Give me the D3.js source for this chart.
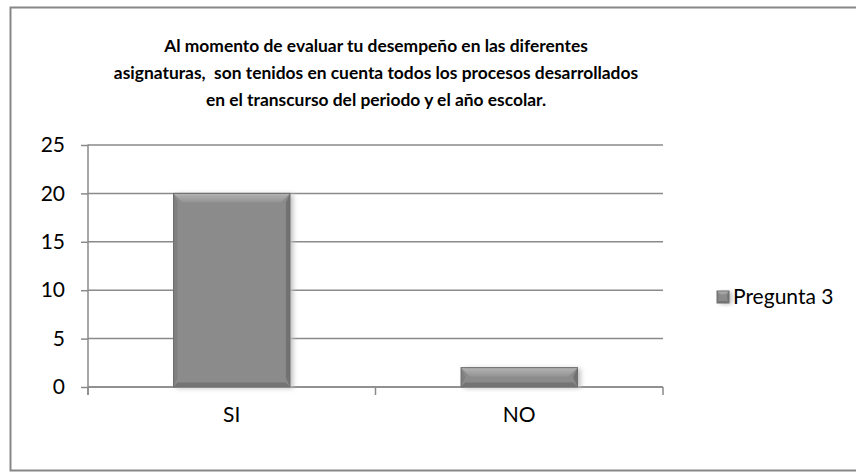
<!DOCTYPE html>
<html lang="es">
<head>
<meta charset="utf-8">
<title>Pregunta 3</title>
<script src="https://cdn.jsdelivr.net/npm/d3@7"></script>
<style>
  body { margin: 0; background: #fff; }
  svg { display: block; }
</style>
</head>
<body>
<script>
// data
var categories = ["SI", "NO"];
var values = [20, 2];
var seriesName = "Pregunta 3";
var yTicks = [0, 5, 10, 15, 20, 25];
var titleLines = [
  "Al momento de evaluar tu desempeño en las diferentes",
  "asignaturas,  son tenidos en cuenta todos los procesos desarrollados",
  "en el transcurso del periodo y el año escolar."
];

var width = 856, height = 472;
var plot = { left: 88, right: 663, top: 145, bottom: 387 };
var font = "Lato, 'Open Sans', sans-serif";

var svg = d3.select("body").append("svg")
  .attr("width", width)
  .attr("height", height);

var defs = svg.append("defs");
var topGrad = defs.append("linearGradient")
  .attr("id", "bevelTop").attr("x1", 0).attr("y1", 0).attr("x2", 0).attr("y2", 1);
topGrad.append("stop").attr("offset", "0%").attr("stop-color", "#b4b4b4");
topGrad.append("stop").attr("offset", "100%").attr("stop-color", "#939393");
var blur = defs.append("filter").attr("id", "shadow")
  .attr("x", "-20%").attr("y", "-20%").attr("width", "140%").attr("height", "140%");
blur.append("feGaussianBlur").attr("stdDeviation", 2.5);

// outer frame (right edge runs off the picture)
svg.append("rect")
  .attr("x", 10.5).attr("y", 7.5)
  .attr("width", 860).attr("height", 463)
  .attr("fill", "none")
  .attr("stroke", "#878787")
  .attr("stroke-width", 2);

// title
svg.append("text")
  .attr("x", 376)
  .attr("text-anchor", "middle")
  .attr("font-family", font)
  .attr("font-weight", "bold")
  .attr("font-size", "17.4px")
  .attr("fill", "#000")
  .style("white-space", "pre")
  .selectAll("tspan")
  .data(titleLines)
  .enter().append("tspan")
  .attr("x", 376)
  .attr("y", function(d, i) { return 52 + i * 27; })
  .text(function(d) { return d; });

var x = d3.scaleBand()
  .domain(categories)
  .range([plot.left, plot.right])
  .padding(0);

var y = d3.scaleLinear()
  .domain([0, 25])
  .range([plot.bottom, plot.top]);

// gridlines
svg.append("g")
  .selectAll("line")
  .data(yTicks)
  .enter().append("line")
  .attr("x1", plot.left).attr("x2", plot.right)
  .attr("y1", function(d) { return y(d); })
  .attr("y2", function(d) { return y(d); })
  .attr("stroke", "#8a8a8a")
  .attr("stroke-width", 1.5);

// y axis
var yAxis = svg.append("g")
  .attr("transform", "translate(" + plot.left + ",0)")
  .call(d3.axisLeft(y).tickValues(yTicks).tickSize(7).tickPadding(16));
yAxis.selectAll("line, path").attr("stroke", "#8a8a8a").attr("stroke-width", 1.5);
yAxis.select("path").attr("d", "M0," + (plot.top - 0.5) + "V" + (plot.bottom + 8));
yAxis.selectAll("text")
  .attr("font-family", font)
  .attr("font-size", "21px")
  .attr("fill", "#000");

// x axis
var xAxis = svg.append("g")
  .attr("transform", "translate(0," + plot.bottom + ")")
  .call(d3.axisBottom(x).tickSize(0).tickPadding(20));
xAxis.select("path").attr("stroke", "#8a8a8a").attr("stroke-width", 1.5)
  .attr("d", "M" + plot.left + ",0H" + plot.right);
xAxis.selectAll("text")
  .attr("font-family", font)
  .attr("font-size", "21px")
  .attr("fill", "#000");
// category separator ticks
xAxis.selectAll(".sep")
  .data([plot.left, x(categories[1]), plot.right])
  .enter().append("line")
  .attr("x1", function(d) { return d; }).attr("x2", function(d) { return d; })
  .attr("y1", 0).attr("y2", 8)
  .attr("stroke", "#8a8a8a").attr("stroke-width", 1.5);

// bevelled box like the spreadsheet bar style
function bevelBox(g, bx, by, bw, bh, b) {
  b = Math.min(b, bh / 2, bw / 2);
  g.append("rect")
    .attr("x", bx + 3).attr("y", by + 1)
    .attr("width", bw).attr("height", bh)
    .attr("fill", "#bdbdbd").attr("filter", "url(#shadow)");
  g.append("rect")
    .attr("x", bx).attr("y", by).attr("width", bw).attr("height", bh)
    .attr("fill", "#8b8b8b");
  var pts = function(a) { return a.map(function(p) { return p.join(","); }).join(" "); };
  // top
  g.append("polygon").attr("fill", "url(#bevelTop)")
    .attr("points", pts([[bx, by], [bx + bw, by], [bx + bw - b, by + b], [bx + b, by + b]]));
  // left
  g.append("polygon").attr("fill", "#7f7f7f")
    .attr("points", pts([[bx, by], [bx + b * 0.45, by + b], [bx + b * 0.45, by + bh - b], [bx, by + bh]]));
  // right
  g.append("polygon").attr("fill", "#727272")
    .attr("points", pts([[bx + bw, by], [bx + bw - b * 0.45, by + b], [bx + bw - b * 0.45, by + bh - b], [bx + bw, by + bh]]));
  // bottom
  g.append("polygon").attr("fill", "#747474")
    .attr("points", pts([[bx, by + bh], [bx + b * 0.45, by + bh - b * 0.5], [bx + bw - b * 0.45, by + bh - b * 0.5], [bx + bw, by + bh]]));
  g.append("rect")
    .attr("x", bx).attr("y", by).attr("width", bw).attr("height", bh)
    .attr("fill", "none").attr("stroke", "#6e6e6e").attr("stroke-width", 1);
}

var barW = x.bandwidth() * 0.405;
var bars = svg.append("g");
categories.forEach(function(c, i) {
  var bx = x(c) + (x.bandwidth() - barW) / 2;
  bevelBox(bars.append("g"), bx, y(values[i]), barW, y(0) - y(values[i]), 9);
});

// legend
var legend = svg.append("g").attr("transform", "translate(717,291)");
bevelBox(legend, 0, 0, 12, 12, 4);
legend.append("text")
  .attr("x", 16).attr("y", 6)
  .attr("dy", "0.35em")
  .attr("font-family", font)
  .attr("font-size", "21px")
  .attr("fill", "#000")
  .text(seriesName);
</script>
</body>
</html>
